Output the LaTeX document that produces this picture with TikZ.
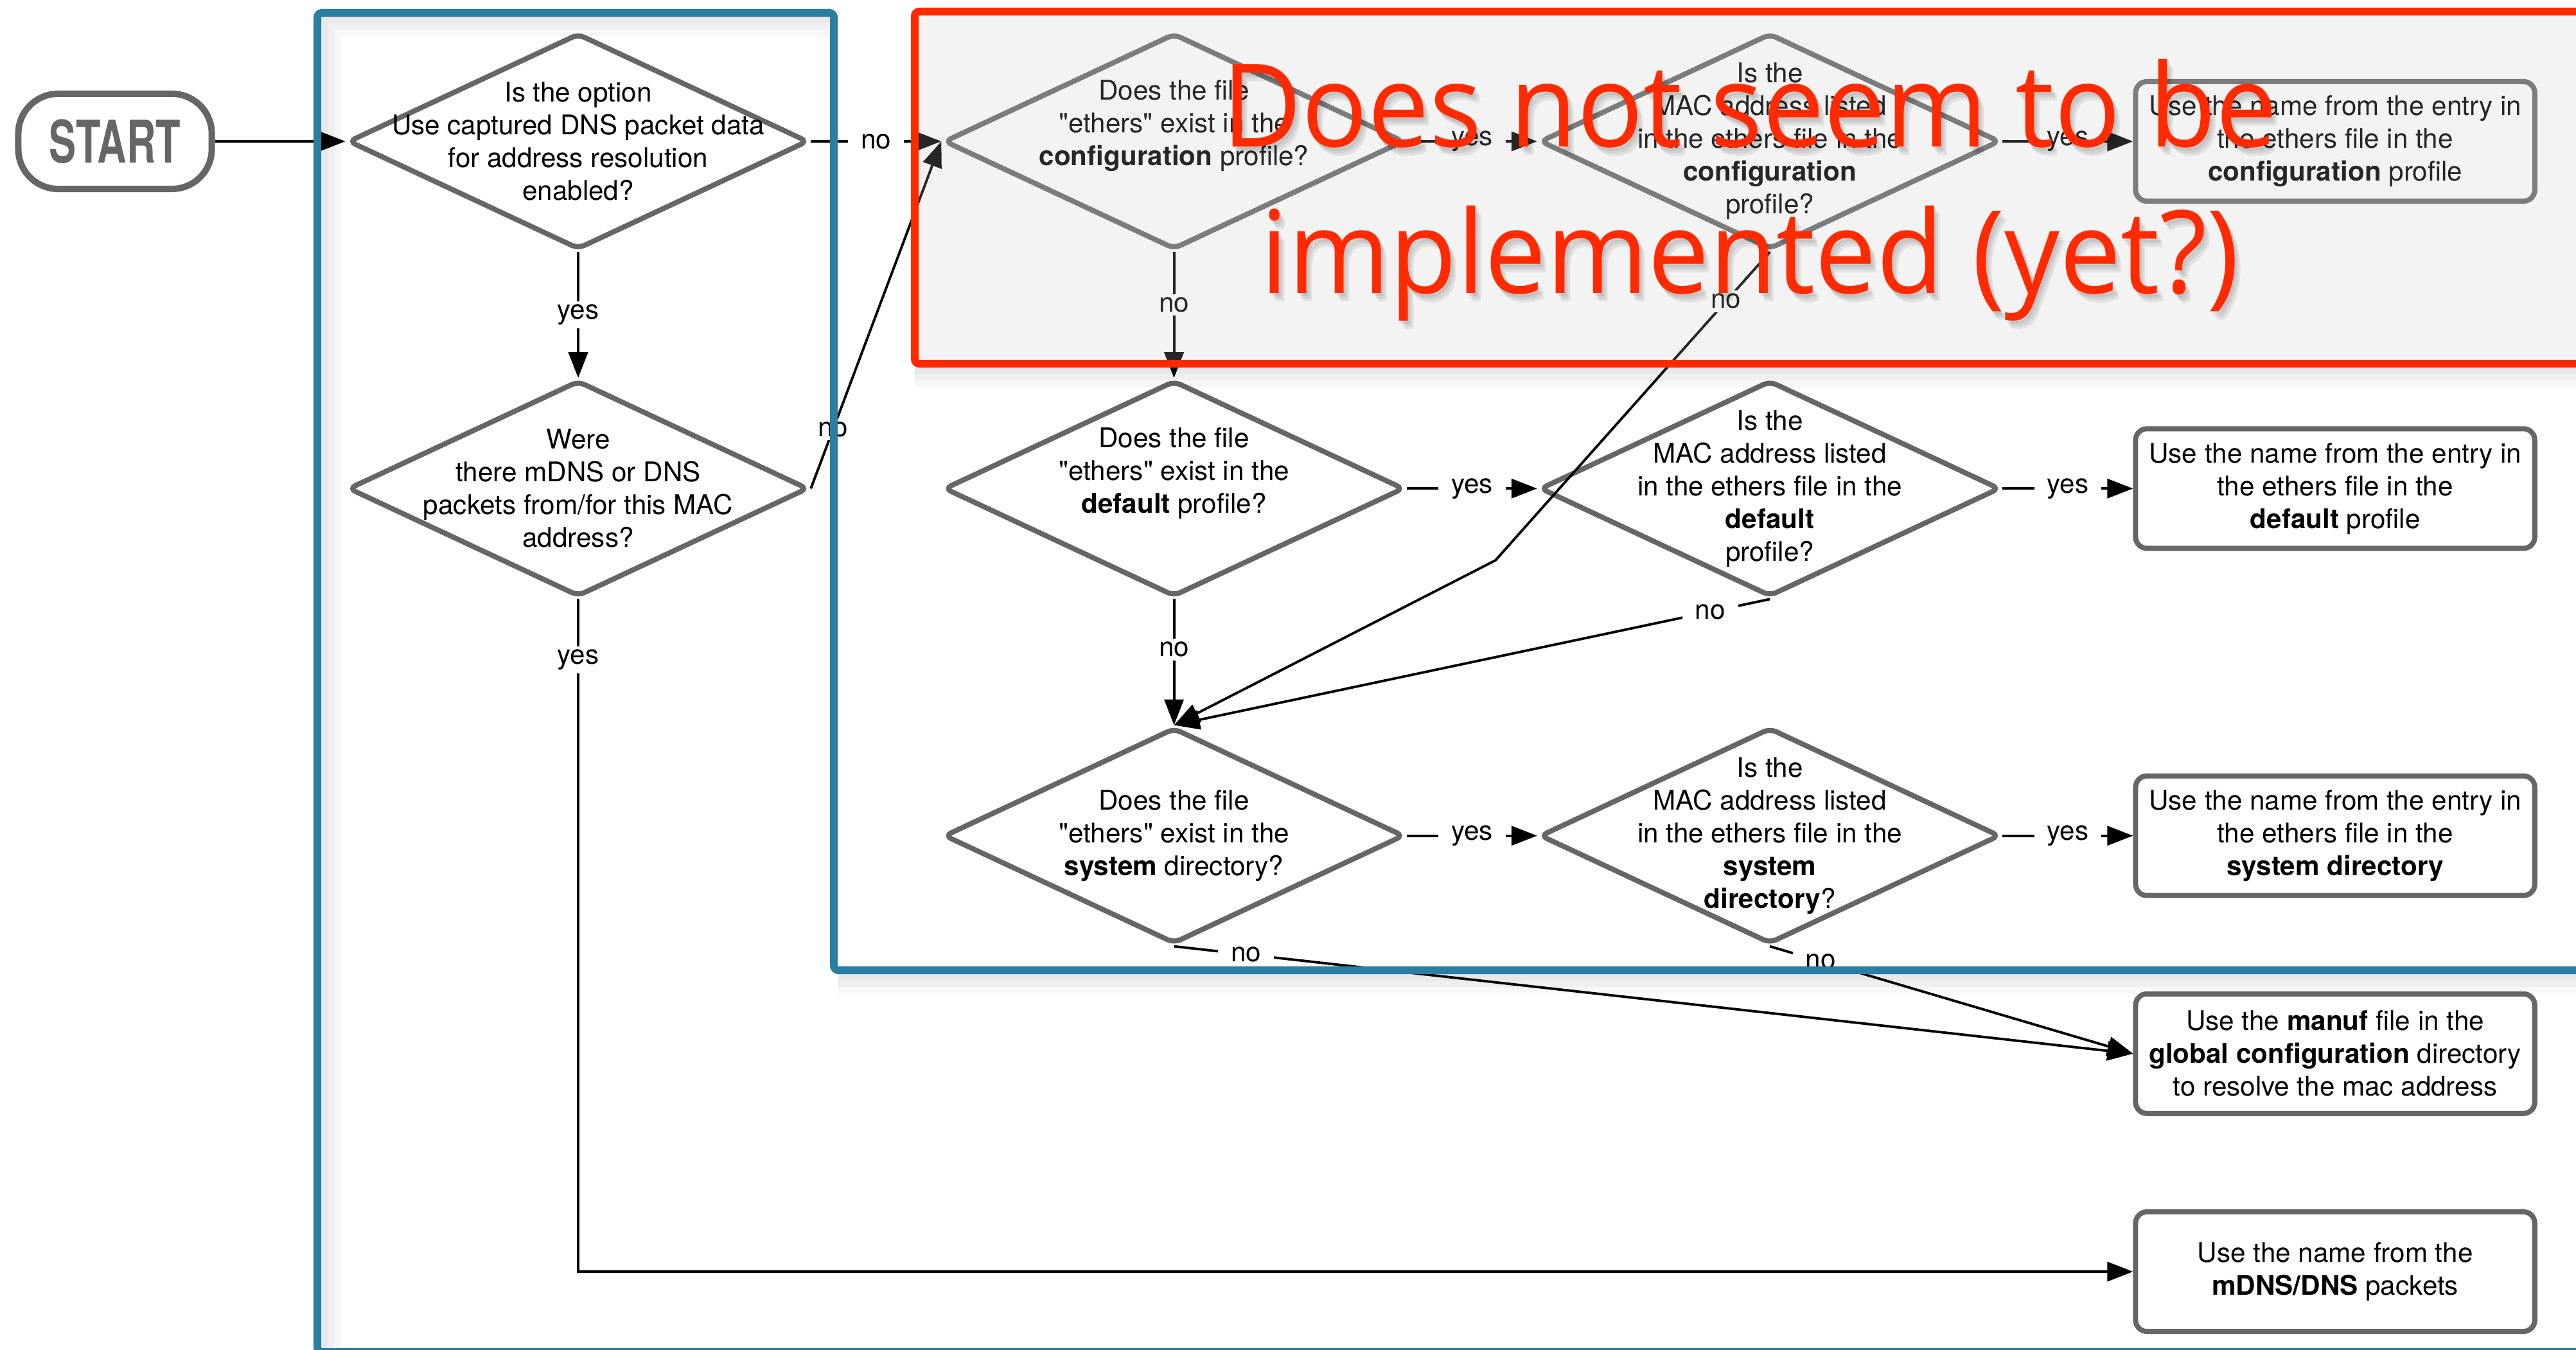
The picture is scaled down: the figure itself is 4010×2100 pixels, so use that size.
\documentclass[tikz,border=0pt]{standalone}
\usepackage{fontspec}
\setmainfont{TeX Gyre Heros}
\newfontfamily\startfont[FakeStretch=0.69]{TeX Gyre Heros}
\newfontfamily\notefont[FakeStretch=0.95]{Open Sans}
\usetikzlibrary{arrows.meta,positioning,shapes.geometric}
\definecolor{shapegray}{HTML}{666666}
\definecolor{frameblue}{HTML}{2A7DA3}
\definecolor{notered}{HTML}{FF2A00}
\definecolor{shadebg}{HTML}{F2F2F2}
\newcommand{\dq}{\XeTeXglyph\XeTeXglyphindex "quotedbl"\relax}
\newcommand{\ethers}{\dq ethers\dq}

\begin{document}
\begin{tikzpicture}[
  x=0.01cm, y=-0.01cm,
  font=\fontsize{12}{14.5}\selectfont,
  terminal/.style={draw=shapegray, line width=0.1cm, rounded corners=0.62cm, minimum width=3.01cm, minimum height=1.48cm, text=shapegray, font=\fontsize{26}{26}\selectfont\startfont\bfseries},
  decision/.style={diamond, draw=shapegray, line width=0.08cm, rounded corners=3pt, inner sep=0pt, minimum width=7.16cm, minimum height=3.36cm},
  qtext/.style={align=center, inner sep=0pt},
  result/.style={draw=shapegray, line width=0.08cm, rounded corners=5pt, align=center, minimum width=6.21cm, minimum height=1.86cm, inner sep=2pt},
  conn/.style={-{Triangle[length=0.4cm, width=0.3cm]}, line width=1.1pt},
  lbl/.style={fill=white, inner xsep=0.2cm, inner ysep=0.05cm},
  lblin/.style={lbl, fill=shadebg},
  redtext/.style={text=notered, align=center, inner sep=0pt, font=\fontsize{51}{65}\selectfont\notefont},
  node distance=2.03cm
]
\useasboundingbox (0,0) rectangle (4010,2100);
\clip (0,0) rectangle (4010,2100);

% grey field behind the part that is not implemented
\fill[shadebg] (1424,18) rectangle (4040,566);

% first column
\node[decision] (d1) at (900,220) {};
\node[qtext] (d1t) at (d1) {Is the option\\Use captured DNS packet data\\for address resolution\\enabled?};
\node[decision, below=1.96cm of d1] (d2) {};
\node[qtext] (d2t) at (d2) {Were\\there mDNS or DNS\\packets from/for this MAC\\address?};
\node[terminal, left=of d1] (start) {START};

% configuration profile
\node[decision, right=of d1] (d3) {};
\node[qtext, yshift=0.24cm] (d3t) at (d3) {Does the file\\\ethers{} exist in the\\\textbf{configuration} profile?};
\node[decision, right=of d3] (d4) {};
\node[qtext] (d4t) at (d4) {Is the\\MAC address listed\\in the ethers file in the\\\textbf{configuration}\\profile?};
\node[result, right=of d4] (b1) {Use the name from the entry in\\the ethers file in the\\\textbf{configuration} profile};

% default profile
\node[decision, below=1.96cm of d3] (d5) {};
\node[qtext, yshift=0.24cm] (d5t) at (d5) {Does the file\\\ethers{} exist in the\\\textbf{default} profile?};
\node[decision, right=of d5] (d6) {};
\node[qtext] (d6t) at (d6) {Is the\\MAC address listed\\in the ethers file in the\\\textbf{default}\\profile?};
\node[result, right=of d6] (b2) {Use the name from the entry in\\the ethers file in the\\\textbf{default} profile};

% system directory
\node[decision, below=1.96cm of d5] (d7) {};
\node[qtext] (d7t) at (d7) {Does the file\\\ethers{} exist in the\\\textbf{system} directory?};
\node[decision, right=of d7] (d8) {};
\node[qtext] (d8t) at (d8) {Is the\\MAC address listed\\in the ethers file in the\\\textbf{system}\\\textbf{directory}?};
\node[result, right=of d8] (b3) {Use the name from the entry in\\the ethers file in the\\\textbf{system directory}};

% fallbacks
\node[result, below=1.45cm of b3] (b4) {Use the \textbf{manuf} file in the\\\textbf{global configuration} directory\\to resolve the mac address};
\node[result, below=1.45cm of b4] (b5) {Use the name from the\\\textbf{mDNS/DNS} packets};

\coordinate (bend) at (2328,872);

\draw[conn] (start) -- (d1);
\draw[conn] (d1) -- node[lbl]{yes} (d2);
\draw[conn] (d1) -- node[lbl]{no} (d3);
\draw[conn] (d2.east) -- node[lbl, pos=.17]{no} (d3.west);
\draw[conn] (d2) |- node[lbl, pos=.045]{yes} (b5);
\draw[conn] (d3) -- node[lblin]{yes} (d4);
\draw[conn] (d4) -- node[lblin]{yes} (b1);
\draw[conn] (d3) -- node[lblin, pos=.42]{no} (d5);
\draw[conn] (d4.south) -- node[lblin, pos=.16]{no} (bend) -- (d7.north);
\draw[conn] (d5) -- node[lbl]{yes} (d6);
\draw[conn] (d6) -- node[lbl]{yes} (b2);
\draw[conn] (d5) -- node[lbl, pos=.4]{no} (d7);
\draw[conn] (d6.south) -- node[lbl, pos=.1]{no} (d7.north);
\draw[conn] (d7) -- node[lbl]{yes} (d8);
\draw[conn] (d8) -- node[lbl]{yes} (b3);
\draw[conn] (d7.south) -- node[lbl, pos=.075]{no} (b4.west);
\draw[conn] (d8.south) -- node[lbl, pos=.14]{no} (b4.west);

% frames on top, with soft shadows
\fill[white, opacity=0.15] (1424,18) rectangle (4040,566);
\foreach \w in {10,20,30} {
  \fill[black, opacity=0.03] (1424,572) rectangle (4040,572+\w);
  \fill[black, opacity=0.03] (1304,1516) rectangle (4040,1516+\w);
  \fill[black, opacity=0.03] (500,26) rectangle (1292,26+\w);
  \fill[black, opacity=0.03] (500,26+\w) rectangle (500+\w,2100);
}
\draw[frameblue, line width=0.12cm, rounded corners=2pt] (494,20) -- (1298,20) -- (1298,1510) -- (4040,1510) -- (4040,2104) -- (494,2104) -- cycle;
\draw[notered, line width=0.12cm, rounded corners=2pt] (1424,18) rectangle (4040,566);

\foreach \dx/\dy [count=\k] in {3/5, 6/9, 9/13} {
  \node[redtext, text=black, opacity=0.07] (glow\k) at (2724+\dx, 296+\dy) {Does not seem to be\\implemented (yet?)};
}
\node[redtext] (todo) at (2724,296) {Does not seem to be\\implemented (yet?)};
\end{tikzpicture}
\end{document}
